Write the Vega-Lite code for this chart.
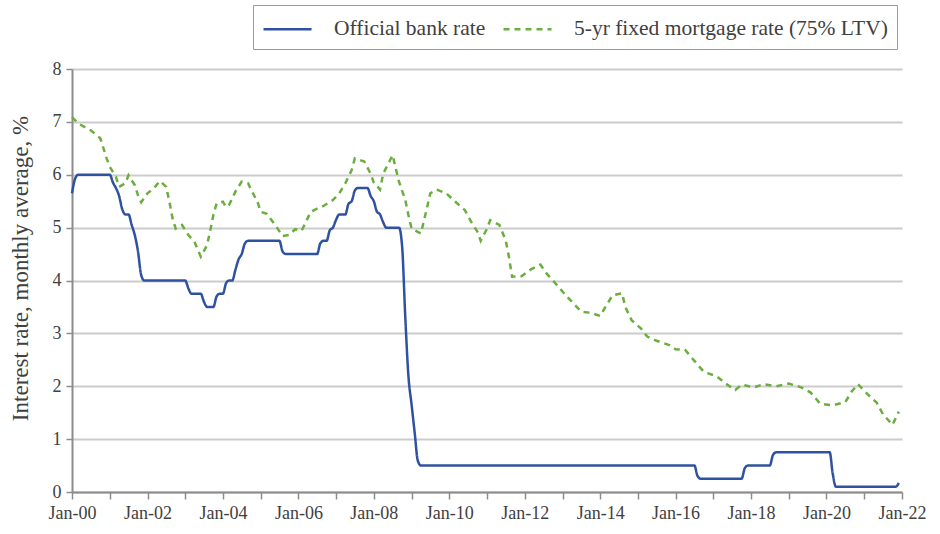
{
  "$schema": "https://vega.github.io/schema/vega-lite/v6.json",
  "width": 830,
  "height": 423,
  "autosize": "none",
  "padding": {"left": 72, "top": 69, "right": 38, "bottom": 42},
  "background": "white",
  "datasets": {
    "bank": [
      {"date": "2000-01-01", "rate": 5.65}, {"date": "2000-02-01", "rate": 5.93}, {"date": "2000-03-01", "rate": 6.0},
      {"date": "2001-01-01", "rate": 6.0}, {"date": "2001-02-01", "rate": 5.85}, {"date": "2001-03-01", "rate": 5.75},
      {"date": "2001-04-01", "rate": 5.6}, {"date": "2001-05-01", "rate": 5.35}, {"date": "2001-06-01", "rate": 5.25},
      {"date": "2001-07-01", "rate": 5.25}, {"date": "2001-08-01", "rate": 5.05}, {"date": "2001-09-01", "rate": 4.85},
      {"date": "2001-10-01", "rate": 4.55}, {"date": "2001-11-01", "rate": 4.1}, {"date": "2001-12-01", "rate": 4.0},
      {"date": "2003-01-01", "rate": 4.0}, {"date": "2003-02-01", "rate": 3.85}, {"date": "2003-03-01", "rate": 3.75},
      {"date": "2003-06-01", "rate": 3.75}, {"date": "2003-07-01", "rate": 3.6}, {"date": "2003-08-01", "rate": 3.5},
      {"date": "2003-10-01", "rate": 3.5}, {"date": "2003-11-01", "rate": 3.7}, {"date": "2003-12-01", "rate": 3.75},
      {"date": "2004-01-01", "rate": 3.75}, {"date": "2004-02-01", "rate": 3.95}, {"date": "2004-03-01", "rate": 4.0},
      {"date": "2004-04-01", "rate": 4.0}, {"date": "2004-05-01", "rate": 4.2}, {"date": "2004-06-01", "rate": 4.4},
      {"date": "2004-07-01", "rate": 4.5}, {"date": "2004-08-01", "rate": 4.7}, {"date": "2004-09-01", "rate": 4.75},
      {"date": "2005-07-01", "rate": 4.75}, {"date": "2005-08-01", "rate": 4.55}, {"date": "2005-09-01", "rate": 4.5},
      {"date": "2006-07-01", "rate": 4.5}, {"date": "2006-08-01", "rate": 4.7}, {"date": "2006-09-01", "rate": 4.75},
      {"date": "2006-10-01", "rate": 4.75}, {"date": "2006-11-01", "rate": 4.95}, {"date": "2006-12-01", "rate": 5.0},
      {"date": "2007-01-01", "rate": 5.15}, {"date": "2007-02-01", "rate": 5.25}, {"date": "2007-04-01", "rate": 5.25},
      {"date": "2007-05-01", "rate": 5.45}, {"date": "2007-06-01", "rate": 5.5}, {"date": "2007-07-01", "rate": 5.7},
      {"date": "2007-08-01", "rate": 5.75}, {"date": "2007-11-01", "rate": 5.75}, {"date": "2007-12-01", "rate": 5.6},
      {"date": "2008-01-01", "rate": 5.5}, {"date": "2008-02-01", "rate": 5.3}, {"date": "2008-03-01", "rate": 5.25},
      {"date": "2008-04-01", "rate": 5.1}, {"date": "2008-05-01", "rate": 5.0}, {"date": "2008-09-01", "rate": 5.0},
      {"date": "2008-10-01", "rate": 4.65}, {"date": "2008-11-01", "rate": 3.3}, {"date": "2008-12-01", "rate": 2.2},
      {"date": "2009-01-01", "rate": 1.65}, {"date": "2009-02-01", "rate": 1.1}, {"date": "2009-03-01", "rate": 0.6},
      {"date": "2009-04-01", "rate": 0.5}, {"date": "2016-07-01", "rate": 0.5}, {"date": "2016-08-01", "rate": 0.3},
      {"date": "2016-09-01", "rate": 0.25}, {"date": "2017-10-01", "rate": 0.25}, {"date": "2017-11-01", "rate": 0.45},
      {"date": "2017-12-01", "rate": 0.5}, {"date": "2018-07-01", "rate": 0.5}, {"date": "2018-08-01", "rate": 0.7},
      {"date": "2018-09-01", "rate": 0.75}, {"date": "2020-02-01", "rate": 0.75}, {"date": "2020-03-01", "rate": 0.35},
      {"date": "2020-04-01", "rate": 0.1}, {"date": "2021-11-01", "rate": 0.1}, {"date": "2021-12-01", "rate": 0.17}
    ],
    "mort": [
      {"date": "2000-01-01", "rate": 7.09}, {"date": "2000-03-01", "rate": 6.97}, {"date": "2000-07-01", "rate": 6.84},
      {"date": "2000-10-01", "rate": 6.69}, {"date": "2000-11-01", "rate": 6.5}, {"date": "2000-12-01", "rate": 6.31},
      {"date": "2001-01-01", "rate": 6.15}, {"date": "2001-03-01", "rate": 5.96}, {"date": "2001-04-01", "rate": 5.77},
      {"date": "2001-06-01", "rate": 5.84}, {"date": "2001-07-01", "rate": 5.99}, {"date": "2001-09-01", "rate": 5.8},
      {"date": "2001-10-01", "rate": 5.61}, {"date": "2001-11-01", "rate": 5.48}, {"date": "2002-01-01", "rate": 5.65},
      {"date": "2002-03-01", "rate": 5.74}, {"date": "2002-05-01", "rate": 5.88}, {"date": "2002-07-01", "rate": 5.77},
      {"date": "2002-08-01", "rate": 5.49}, {"date": "2002-09-01", "rate": 5.17}, {"date": "2002-10-01", "rate": 4.98},
      {"date": "2002-12-01", "rate": 5.05}, {"date": "2003-02-01", "rate": 4.86}, {"date": "2003-04-01", "rate": 4.73},
      {"date": "2003-06-01", "rate": 4.45}, {"date": "2003-08-01", "rate": 4.67}, {"date": "2003-09-01", "rate": 4.95},
      {"date": "2003-10-01", "rate": 5.24}, {"date": "2003-11-01", "rate": 5.46}, {"date": "2004-01-01", "rate": 5.49},
      {"date": "2004-02-01", "rate": 5.39}, {"date": "2004-03-01", "rate": 5.43}, {"date": "2004-05-01", "rate": 5.68},
      {"date": "2004-07-01", "rate": 5.87}, {"date": "2004-09-01", "rate": 5.84}, {"date": "2004-10-01", "rate": 5.71},
      {"date": "2004-12-01", "rate": 5.49}, {"date": "2005-01-01", "rate": 5.3}, {"date": "2005-03-01", "rate": 5.26},
      {"date": "2005-06-01", "rate": 5.02}, {"date": "2005-08-01", "rate": 4.84}, {"date": "2005-10-01", "rate": 4.86},
      {"date": "2005-12-01", "rate": 4.97}, {"date": "2006-02-01", "rate": 4.94}, {"date": "2006-05-01", "rate": 5.3},
      {"date": "2006-07-01", "rate": 5.36}, {"date": "2006-09-01", "rate": 5.41}, {"date": "2006-12-01", "rate": 5.52},
      {"date": "2007-02-01", "rate": 5.65}, {"date": "2007-04-01", "rate": 5.84}, {"date": "2007-06-01", "rate": 6.09},
      {"date": "2007-07-01", "rate": 6.31}, {"date": "2007-10-01", "rate": 6.25}, {"date": "2007-12-01", "rate": 6.02},
      {"date": "2008-01-01", "rate": 5.85}, {"date": "2008-03-01", "rate": 5.72}, {"date": "2008-04-01", "rate": 6.02},
      {"date": "2008-07-01", "rate": 6.37}, {"date": "2008-08-01", "rate": 6.12}, {"date": "2008-09-01", "rate": 5.87},
      {"date": "2008-11-01", "rate": 5.52}, {"date": "2008-12-01", "rate": 5.24}, {"date": "2009-01-01", "rate": 4.98},
      {"date": "2009-04-01", "rate": 4.89}, {"date": "2009-06-01", "rate": 5.39}, {"date": "2009-07-01", "rate": 5.65},
      {"date": "2009-09-01", "rate": 5.72}, {"date": "2009-12-01", "rate": 5.65}, {"date": "2010-03-01", "rate": 5.49},
      {"date": "2010-06-01", "rate": 5.33}, {"date": "2010-08-01", "rate": 5.11}, {"date": "2010-10-01", "rate": 4.92},
      {"date": "2010-11-01", "rate": 4.75}, {"date": "2011-01-01", "rate": 4.98}, {"date": "2011-02-01", "rate": 5.14},
      {"date": "2011-05-01", "rate": 5.05}, {"date": "2011-07-01", "rate": 4.76}, {"date": "2011-08-01", "rate": 4.45},
      {"date": "2011-09-01", "rate": 4.07}, {"date": "2011-12-01", "rate": 4.08}, {"date": "2012-03-01", "rate": 4.21},
      {"date": "2012-06-01", "rate": 4.3}, {"date": "2012-08-01", "rate": 4.13}, {"date": "2012-11-01", "rate": 3.93},
      {"date": "2013-02-01", "rate": 3.72}, {"date": "2013-04-01", "rate": 3.6}, {"date": "2013-07-01", "rate": 3.41},
      {"date": "2013-10-01", "rate": 3.39}, {"date": "2014-01-01", "rate": 3.33}, {"date": "2014-03-01", "rate": 3.53},
      {"date": "2014-05-01", "rate": 3.72}, {"date": "2014-08-01", "rate": 3.76}, {"date": "2014-09-01", "rate": 3.5},
      {"date": "2014-11-01", "rate": 3.25}, {"date": "2015-02-01", "rate": 3.09}, {"date": "2015-04-01", "rate": 2.94},
      {"date": "2015-07-01", "rate": 2.86}, {"date": "2015-11-01", "rate": 2.78}, {"date": "2016-01-01", "rate": 2.7},
      {"date": "2016-04-01", "rate": 2.69}, {"date": "2016-07-01", "rate": 2.48}, {"date": "2016-10-01", "rate": 2.27},
      {"date": "2017-02-01", "rate": 2.19}, {"date": "2017-05-01", "rate": 2.05}, {"date": "2017-08-01", "rate": 1.93},
      {"date": "2017-10-01", "rate": 2.03}, {"date": "2018-02-01", "rate": 1.98}, {"date": "2018-05-01", "rate": 2.04},
      {"date": "2018-09-01", "rate": 2.0}, {"date": "2019-01-01", "rate": 2.05}, {"date": "2019-05-01", "rate": 1.98},
      {"date": "2019-08-01", "rate": 1.88}, {"date": "2019-11-01", "rate": 1.67}, {"date": "2020-03-01", "rate": 1.64},
      {"date": "2020-07-01", "rate": 1.7}, {"date": "2020-09-01", "rate": 1.9}, {"date": "2020-11-01", "rate": 2.04},
      {"date": "2021-02-01", "rate": 1.85}, {"date": "2021-05-01", "rate": 1.69}, {"date": "2021-07-01", "rate": 1.47},
      {"date": "2021-10-01", "rate": 1.27}, {"date": "2021-12-01", "rate": 1.52}
    ]
  },
  "layer": [
    {
      "data": {"name": "bank"},
      "transform": [{"calculate": "'Official bank rate'", "as": "series"}],
      "mark": {"type": "line", "strokeWidth": 2.5, "interpolate": "monotone"},
      "encoding": {}
    },
    {
      "data": {"name": "mort"},
      "transform": [{"calculate": "'5-yr fixed mortgage rate (75% LTV)'", "as": "series"}],
      "mark": {"type": "line", "strokeWidth": 2.5},
      "encoding": {}
    }
  ],
  "encoding": {
    "x": {
      "field": "date", "type": "temporal",
      "scale": {"type": "utc", "domain": [{"year": 2000, "month": 1, "date": 1, "utc": true}, {"year": 2022, "month": 1, "date": 1, "utc": true}]},
      "axis": {
        "title": null, "grid": false,
        "tickCount": {"interval": "year", "step": 1},
        "labelExpr": "utcyear(datum.value) % 2 == 0 ? utcFormat(datum.value, '%b-%y') : ''",
        "labelOverlap": false, "labelFlush": false,
        "domainColor": "#8c8c8c", "domainWidth": 2, "tickColor": "#8c8c8c", "tickWidth": 1.5, "tickSize": 7,
        "labelFont": "Liberation Serif", "labelFontSize": 18, "labelColor": "#404040", "labelPadding": 5
      }
    },
    "y": {
      "field": "rate", "type": "quantitative",
      "scale": {"domain": [0, 8], "nice": false, "zero": true},
      "axis": {
        "title": "Interest rate, monthly average, %",
        "values": [0, 1, 2, 3, 4, 5, 6, 7, 8],
        "grid": true, "gridColor": "#cccccc", "gridWidth": 2,
        "domainColor": "#8c8c8c", "domainWidth": 2, "tickColor": "#8c8c8c", "tickWidth": 1.5, "tickSize": 6,
        "labelFont": "Liberation Serif", "labelFontSize": 18, "labelColor": "#404040", "labelPadding": 5,
        "titleFont": "Liberation Serif", "titleFontSize": 23, "titleFontWeight": "normal", "titleColor": "#404040", "titlePadding": 20,
        "titleY": 199
      }
    },
    "color": {
      "field": "series", "type": "nominal",
      "scale": {"domain": ["Official bank rate", "5-yr fixed mortgage rate (75% LTV)"], "range": ["#2f52a0", "#6cae3e"]},
      "legend": {"title": null}
    },
    "strokeDash": {
      "field": "series", "type": "nominal",
      "scale": {"domain": ["Official bank rate", "5-yr fixed mortgage rate (75% LTV)"], "range": [[1, 0], [6, 5]]},
      "legend": {"title": null}
    }
  },
  "config": {
    "view": {"stroke": null},
    "legend": {
      "orient": "none", "legendX": 181, "legendY": -64, "direction": "horizontal",
      "strokeColor": "#9a9a9a", "fillColor": "white", "padding": 9,
      "symbolType": "M-1,0H2.56", "symbolSize": 729, "symbolStrokeWidth": 2.5,
      "labelFont": "Liberation Serif", "labelFontSize": 21.5, "labelColor": "#404040", "labelLimit": 500,
      "labelOffset": 42, "columnPadding": 12
    }
  }
}
